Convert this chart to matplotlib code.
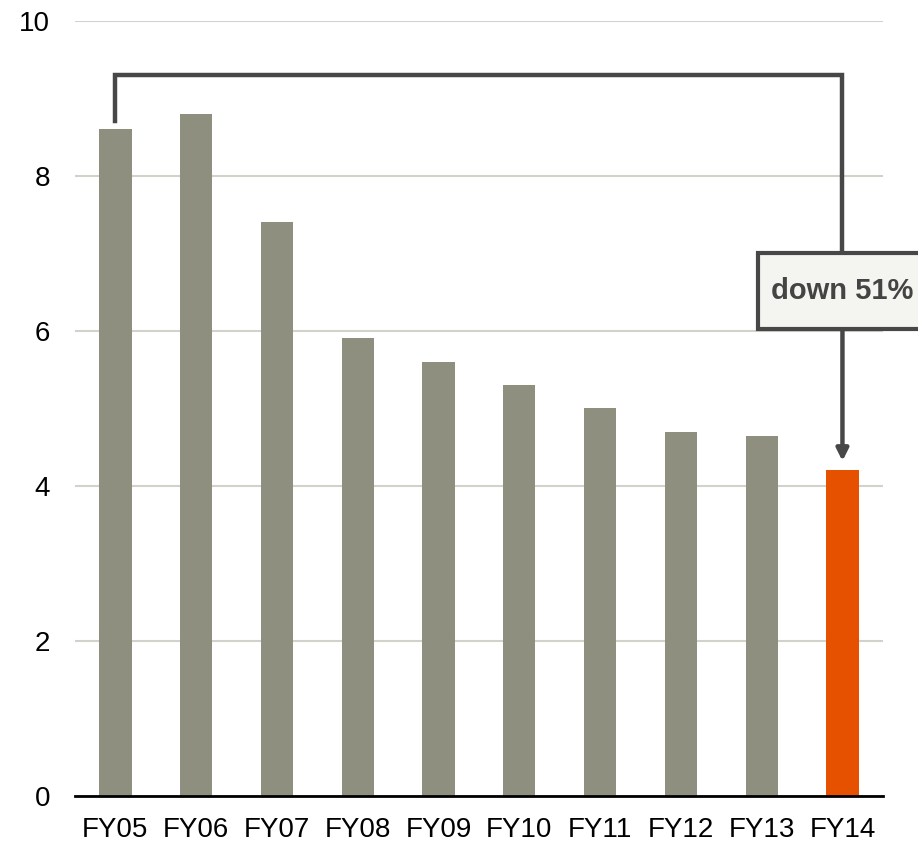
import matplotlib
matplotlib.use('Agg')
import matplotlib.pyplot as plt
from matplotlib.patches import Rectangle

# Dados do gráfico
anos = ['FY05', 'FY06', 'FY07', 'FY08', 'FY09', 'FY10', 'FY11', 'FY12', 'FY13', 'FY14']
valores = [8.6, 8.8, 7.4, 5.9, 5.6, 5.3, 5.0, 4.7, 4.64, 4.2]
rotulo_queda = 'down 51%'
ticks_y = [0, 2, 4, 6, 8, 10]

cor_barra = '#8f8f7f'
cor_destaque = '#e65100'
cor_linha = '#474747'

plt.rcParams['font.family'] = ['Liberation Sans', 'DejaVu Sans']

fig = plt.figure(figsize=(9.18, 8.42), dpi=100)
ax = fig.add_axes([0.0817, 0.0546, 0.880, 0.921])

cores = [cor_barra] * (len(anos) - 1) + [cor_destaque]
x = list(range(len(anos)))
ax.bar(x, valores, width=0.4, color=cores, zorder=2)

ax.set_xlim(-0.5, len(anos) - 0.5)
ax.set_ylim(0, 10)
ax.set_yticks(ticks_y)
ax.set_xticks(x)
ax.set_xticklabels(anos)
ax.tick_params(axis='y', length=0, pad=18, labelsize=20)
ax.tick_params(axis='x', length=0, pad=15, labelsize=20)

ax.yaxis.grid(True, color='#d2d2ca', linewidth=1.5, zorder=0)
ax.set_axisbelow(True)
for lado in ['top', 'right', 'left']:
    ax.spines[lado].set_visible(False)
ax.spines['bottom'].set_color('black')
ax.spines['bottom'].set_linewidth(2)
ax.spines['bottom'].set_zorder(3)

# Colchete indicando a queda
topo = max(valores) + 0.5
inicio = valores[0] + 0.1
fim = valores[-1] + 0.12
ax.plot([x[0], x[0], x[-1], x[-1]], [inicio, topo, topo, 6.5],
        color=cor_linha, linewidth=3.2, solid_joinstyle='miter', zorder=4)
ax.annotate('', xy=(x[-1], fim), xytext=(x[-1], 6.6),
            arrowprops=dict(arrowstyle='-|>,head_length=0.7,head_width=0.35',
                            color=cor_linha, linewidth=3.2, shrinkA=0, shrinkB=0),
            zorder=4)

# Caixa do rótulo
caixa = Rectangle((x[-1] - 1.05, 6.02), 2.1, 0.98, facecolor='#f4f4f0',
                  edgecolor=cor_linha, linewidth=3, zorder=5, clip_on=False)
ax.add_patch(caixa)
ax.text(x[-1], 6.51, rotulo_queda, ha='center', va='center', fontsize=21,
        fontweight='bold', color='#444444', zorder=6)

fig.savefig('out.png', dpi=100)
